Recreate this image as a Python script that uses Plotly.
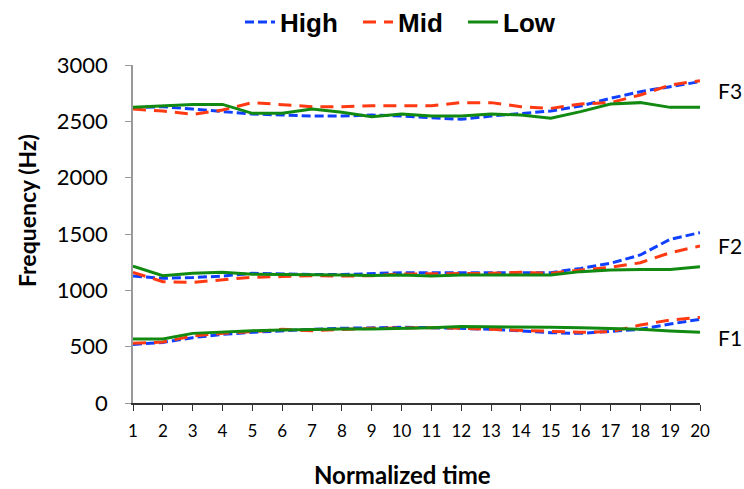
import plotly.graph_objects as go

time = list(range(1, 21))

high_f1 = [520, 538, 580, 609, 627, 642, 654, 663, 669, 672, 669, 663, 654, 639, 624, 618, 633, 654, 701, 743]
high_f2 = [1127, 1107, 1113, 1127, 1151, 1145, 1140, 1140, 1150, 1157, 1157, 1157, 1157, 1163, 1157, 1195, 1240, 1314, 1453, 1512]
high_f3 = [2621, 2630, 2609, 2586, 2565, 2556, 2547, 2547, 2556, 2547, 2532, 2518, 2547, 2571, 2592, 2636, 2704, 2763, 2808, 2852]

mid_f1 = [530, 541, 595, 618, 633, 654, 642, 654, 663, 666, 669, 663, 654, 648, 639, 627, 633, 692, 737, 760]
mid_f2 = [1160, 1077, 1071, 1092, 1116, 1122, 1130, 1127, 1130, 1145, 1145, 1151, 1151, 1160, 1151, 1180, 1204, 1245, 1334, 1393]
mid_f3 = [2609, 2592, 2562, 2600, 2666, 2645, 2630, 2630, 2639, 2639, 2639, 2666, 2666, 2630, 2615, 2654, 2666, 2734, 2822, 2861]

low_f1 = [568, 568, 618, 633, 642, 648, 654, 657, 657, 661, 669, 678, 678, 678, 672, 669, 663, 654, 639, 627]
low_f2 = [1215, 1130, 1151, 1160, 1142, 1142, 1138, 1136, 1132, 1136, 1127, 1136, 1136, 1136, 1136, 1166, 1180, 1186, 1186, 1210]
low_f3 = [2625, 2640, 2650, 2650, 2571, 2571, 2609, 2580, 2541, 2565, 2547, 2547, 2565, 2556, 2527, 2586, 2654, 2666, 2624, 2624]

y_ticks = [0, 500, 1000, 1500, 2000, 2500, 3000]
formant_labels = ["F1", "F2", "F3"]
label_y = [577, 1402, 2778]

W, H = 744, 489

series = [
    ("High", [high_f1, high_f2, high_f3], "#1040FF", "9px,4px", "legend", 240),
    ("Mid", [mid_f1, mid_f2, mid_f3], "#FF3A12", "13px,8px", "legend2", 358),
    ("Low", [low_f1, low_f2, low_f3], "#128A12", "solid", "legend3", 463),
]

fig = go.Figure()
for name, curves, color, dash, leg, _ in series:
    for i, vals in enumerate(curves):
        fig.add_trace(go.Scatter(
            x=time, y=vals, mode="lines", name=name, legend=leg,
            legendgroup=name, showlegend=(i == 0),
            line=dict(color=color, width=3, dash=dash),
        ))

for lab, yv in zip(formant_labels, label_y):
    fig.add_annotation(x=20, y=yv, xref="x", yref="y", text=lab, showarrow=False,
                       xanchor="left", xshift=16,
                       font=dict(family="Lato", size=21, color="#000"))

# axis titles
fig.add_annotation(x=-0.187, y=0.571, xref="paper", yref="paper", text="Frequency (Hz)",
                   textangle=-90, showarrow=False, xanchor="center", yanchor="middle",
                   font=dict(family="Lato", size=23, color="#000", weight="bold"))
fig.add_annotation(x=0.476, y=-0.212, xref="paper", yref="paper", text="Normalized time",
                   showarrow=False, xanchor="center", yanchor="middle",
                   font=dict(family="Lato", size=24, color="#000", weight="bold"))

legend_font = dict(family="Liberation Sans", size=26, color="#000", weight="bold")
legends = {}
for name, _, _, _, leg, lx in series:
    legends[leg] = dict(orientation="h", x=lx / W, xanchor="left", y=1 - 22 / H, yanchor="middle",
                        yref="container", xref="container", font=legend_font,
                        bgcolor="rgba(0,0,0,0)", borderwidth=0)

fig.update_layout(
    width=W, height=H,
    margin=dict(l=133, r=44, t=65, b=86, autoexpand=False),
    paper_bgcolor="white", plot_bgcolor="white",
    showlegend=True,
    **legends,
)
fig.update_xaxes(
    range=[1, 20], tickmode="array", tickvals=time, ticktext=[str(t) for t in time],
    showline=True, linecolor="#333", linewidth=1.5, ticks="outside", ticklen=6, tickcolor="#333",
    showgrid=False, zeroline=False, automargin=False, ticklabelstandoff=6,
    tickfont=dict(family="Lato", size=17, color="#000"),
)
fig.update_yaxes(
    range=[0, 3000], tickmode="array", tickvals=y_ticks,
    showline=True, linecolor="#999", linewidth=1.5, ticks="outside", ticklen=6, tickcolor="#999",
    showgrid=False, zeroline=False, automargin=False, ticklabelstandoff=13,
    tickfont=dict(family="Lato", size=22, color="#000"),
)

fig.write_html("out.html", config={"displayModeBar": False},
               post_script="document.body.style.margin='0px';document.body.style.overflow='hidden';")
